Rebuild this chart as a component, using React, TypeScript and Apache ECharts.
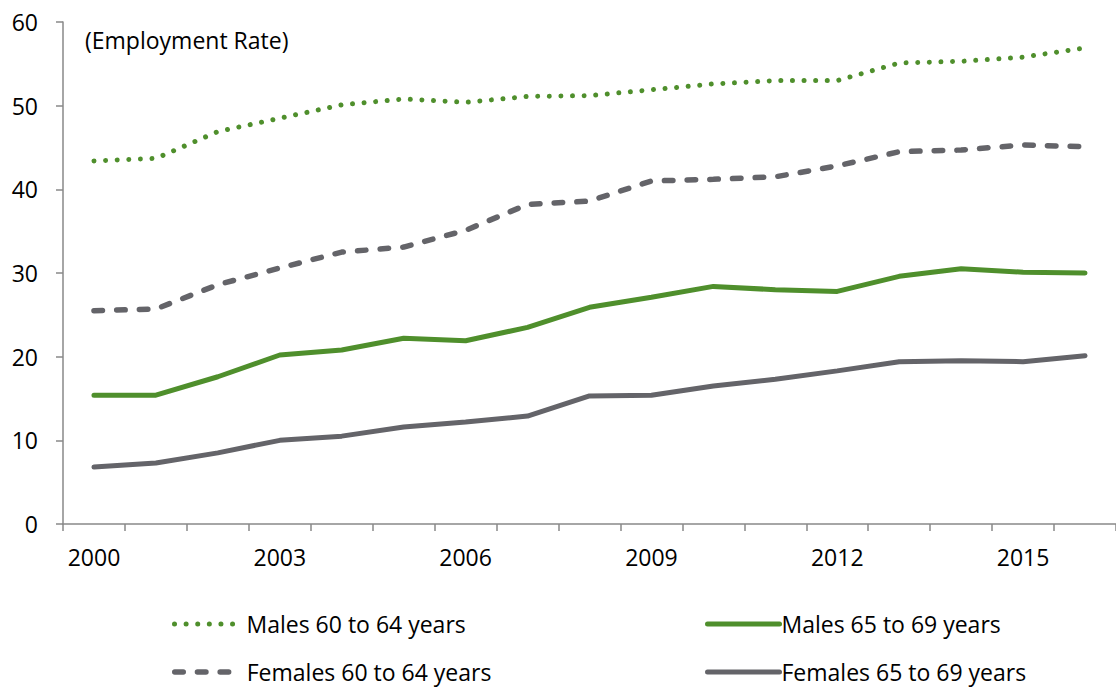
import React, { useEffect, useRef } from "react";
import * as echarts from "echarts";

const years = ["2000","2001","2002","2003","2004","2005","2006","2007","2008","2009","2010","2011","2012","2013","2014","2015","2016"];
const males6064 = [43.4, 43.7, 46.9, 48.5, 50.1, 50.8, 50.4, 51.1, 51.2, 51.9, 52.6, 53.0, 53.0, 55.1, 55.3, 55.8, 56.9];
const females6064 = [25.5, 25.7, 28.6, 30.6, 32.5, 33.1, 35.1, 38.2, 38.6, 41.0, 41.2, 41.5, 42.8, 44.5, 44.7, 45.3, 45.1];
const males6569 = [15.4, 15.4, 17.6, 20.2, 20.8, 22.2, 21.9, 23.5, 25.9, 27.1, 28.4, 28.0, 27.8, 29.6, 30.5, 30.1, 30.0];
const females6569 = [6.8, 7.3, 8.5, 10.0, 10.5, 11.6, 12.2, 12.9, 15.3, 15.4, 16.5, 17.3, 18.3, 19.4, 19.5, 19.4, 20.1];
const yTicks = { min: 0, max: 60, interval: 10 };
const yTitle = "(Employment Rate)";
const seriesNames = ["Males 60 to 64 years", "Females 60 to 64 years", "Males 65 to 69 years", "Females 65 to 69 years"];

const GREEN = "#4f8f2c";
const GREY = "#646469";
const FONT = "Open Sans";
const FS = 23;

const dotted = { color: GREEN, width: 5, type: [0.01, 11.6], cap: "round" };
const dashed = { color: GREY, width: 5.5, type: [8.5, 14.2], cap: "round" };
const solidGreen = { color: GREEN, width: 5, cap: "round" };
const solidGrey = { color: GREY, width: 5, cap: "round" };

function legendItem(name: string, left: number, top: number, width: number, lineStyle: any, padLeft: number) {
  return {
    data: [name],
    left,
    top,
    padding: 0,
    itemWidth: width,
    itemHeight: 12,
    itemStyle: { opacity: 0 },
    lineStyle,
    textStyle: { fontSize: FS, color: "#000", fontFamily: FONT, lineHeight: 26, padding: [0, 0, 0, padLeft] },
  };
}

export default function App() {
  const ref = useRef<HTMLDivElement>(null);
  useEffect(() => {
    if (!ref.current) return;
    const chart = echarts.init(ref.current, null, { renderer: "svg" });
    chart.setOption({
      animation: false,
      textStyle: { fontFamily: FONT },
      grid: { left: 63, top: 22, width: 1059, height: 502 },
      xAxis: {
        type: "category",
        data: years,
        boundaryGap: true,
        axisLine: { lineStyle: { color: "#898989", width: 1.5 } },
        axisTick: { show: true, length: 7, interval: 0, lineStyle: { color: "#898989", width: 1.5 } },
        axisLabel: { interval: 2, margin: 21, color: "#000", fontSize: FS, fontFamily: FONT },
        splitLine: { show: false },
      },
      yAxis: {
        type: "value",
        min: yTicks.min,
        max: yTicks.max,
        interval: yTicks.interval,
        axisLine: { show: true, lineStyle: { color: "#898989", width: 1.5 } },
        axisTick: { show: true, length: 7, lineStyle: { color: "#898989", width: 1.5 } },
        axisLabel: { margin: 25, color: "#000", fontSize: FS, fontFamily: FONT },
        splitLine: { show: false },
      },
      legend: [
        legendItem(seriesNames[0], 172, 611, 66, dotted, 1),
        legendItem(seriesNames[1], 172, 659, 66, dashed, 1),
        legendItem(seriesNames[2], 705, 611, 72, solidGreen, -3),
        legendItem(seriesNames[3], 705, 659, 72, solidGrey, -3),
      ],
      graphic: [
        {
          type: "text",
          left: 85,
          top: 28,
          style: { text: yTitle, fontSize: FS, fontFamily: FONT, fill: "#000" },
        },
      ],
      series: [
        { name: seriesNames[0], type: "line", data: males6064, symbol: "none", lineStyle: dotted, itemStyle: { color: GREEN } },
        { name: seriesNames[1], type: "line", data: females6064, symbol: "none", lineStyle: dashed, itemStyle: { color: GREY } },
        { name: seriesNames[2], type: "line", data: males6569, symbol: "none", lineStyle: solidGreen, itemStyle: { color: GREEN } },
        { name: seriesNames[3], type: "line", data: females6569, symbol: "none", lineStyle: solidGrey, itemStyle: { color: GREY } },
      ],
    });
    return () => chart.dispose();
  }, []);
  return (
    <div
      ref={ref}
      style={{ position: "fixed", left: 0, top: 0, width: 1116, height: 689, background: "#fff" }}
    />
  );
}
